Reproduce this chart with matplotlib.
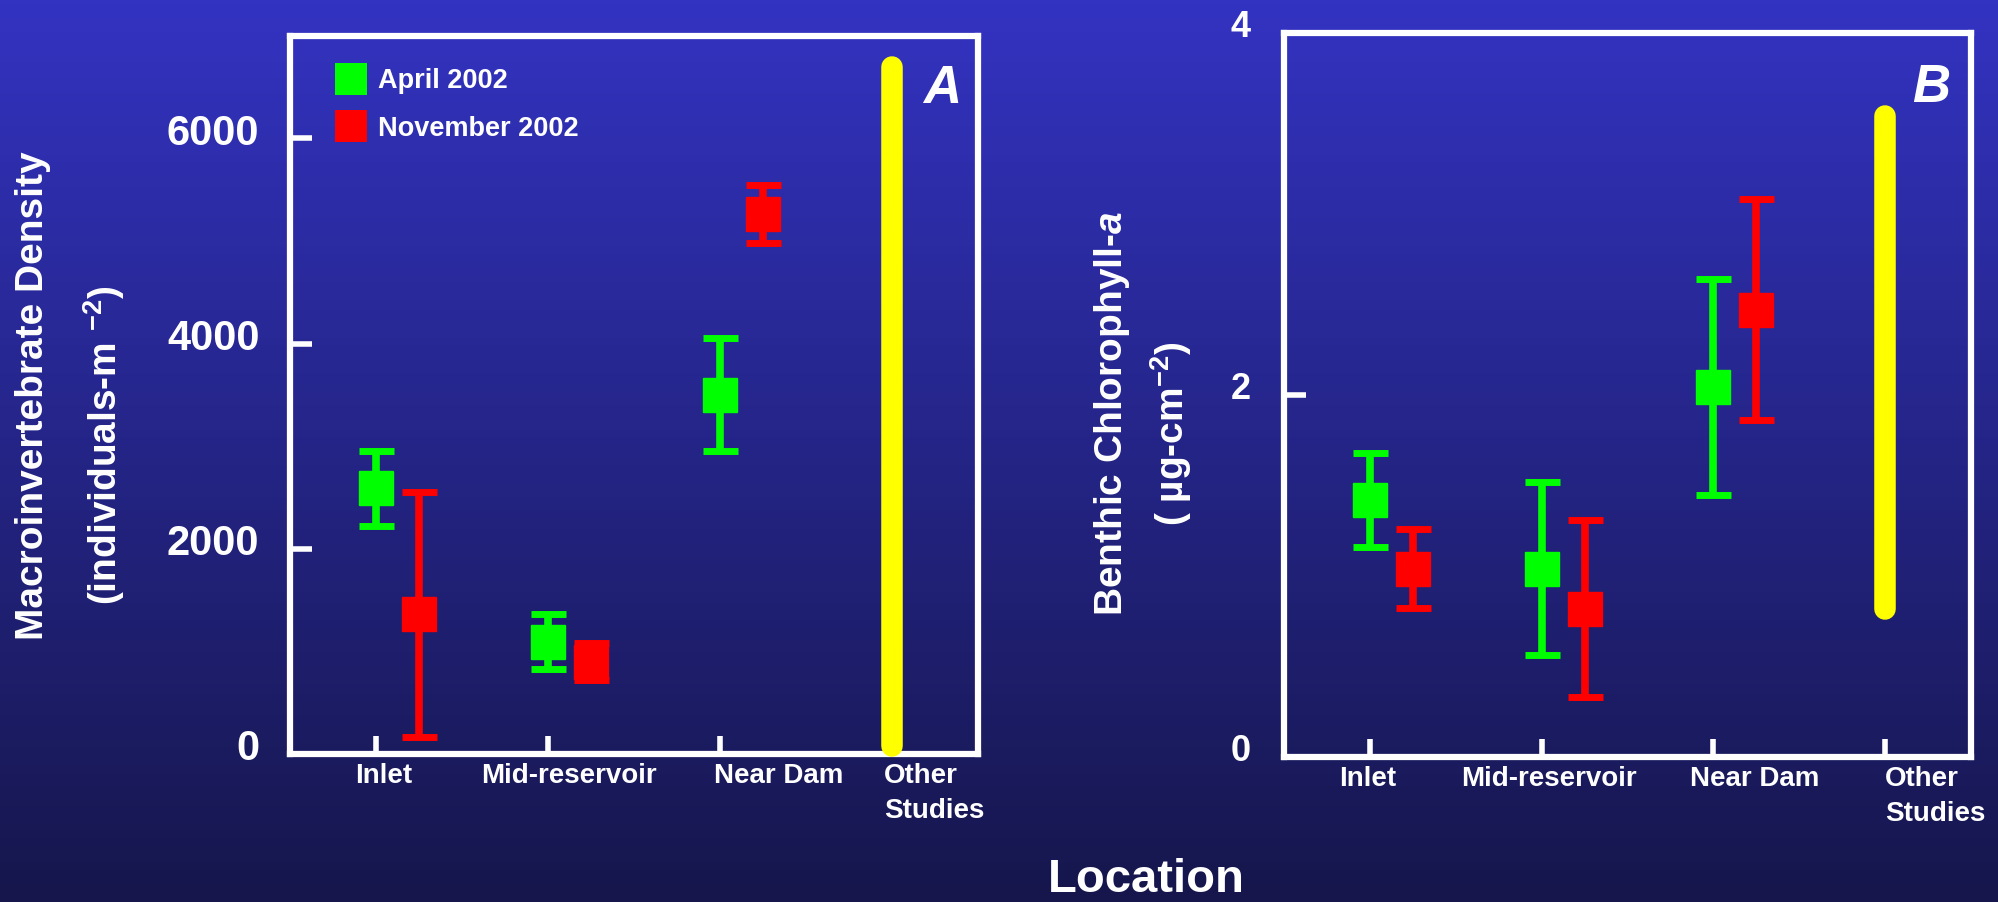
import numpy as np
import matplotlib
matplotlib.use('Agg')
import matplotlib.pyplot as plt
from matplotlib.lines import Line2D
from matplotlib.transforms import ScaledTranslation, blended_transform_factory

plt.rcParams['font.family'] = ['Liberation Sans', 'DejaVu Sans']
plt.rcParams['font.weight'] = 'bold'
plt.rcParams['mathtext.fontset'] = 'custom'
plt.rcParams['mathtext.rm'] = 'Liberation Sans:bold'
plt.rcParams['mathtext.bf'] = 'Liberation Sans:bold'
plt.rcParams['mathtext.it'] = 'Liberation Sans:bold:italic'

# data
locations = ['Inlet', 'Mid-reservoir', 'Near Dam', 'Other\nStudies']
x = np.arange(1, 5)

dens_apr = [2590, 1096, 3503]
dens_apr_err = [365, 272, 547]
dens_nov = [1360, 900, 5265]
dens_nov_err = [1195, 180, 284]
dens_other = [80, 6700]

chl_apr = [1.42, 1.04, 2.045]
chl_apr_err = [0.26, 0.477, 0.596]
chl_nov = [1.04, 0.82, 2.47]
chl_nov_err = [0.218, 0.49, 0.61]
chl_other = [0.82, 3.54]

GREEN = '#00ff00'
RED = '#ff0000'
YELLOW = '#ffff00'
W = 'white'

fig = plt.figure(figsize=(19.99, 9.02), dpi=100)

# gradient background
bg = fig.add_axes([0, 0, 1, 1], zorder=-10)
top = np.array([51, 51, 194]) / 255
bot = np.array([22, 22, 76]) / 255
t = np.linspace(0, 1, 256)[:, None]
grad = top[None, :] * (1 - t) + bot[None, :] * t
bg.imshow(grad[:, None, :], aspect='auto', extent=[0, 1, 0, 1])
bg.axis('off')

axA = fig.add_axes([0.1451, 0.1641, 0.3442, 0.7963])
axB = fig.add_axes([0.6423, 0.1608, 0.3437, 0.8027])


def panel(ax, apr, apr_err, nov, nov_err, other, ylim, yticks, ytsize, ypad,
          lab_x, letter, letter_pos):
    ax.set_facecolor('none')
    for xs, ys, es, c in [(x[:3], apr, apr_err, GREEN),
                          (x[:3] + 0.25, nov, nov_err, RED)]:
        _, caps, bars = ax.errorbar(xs, ys, yerr=es, fmt='s', color=c, ms=24,
                                    mec=c, elinewidth=5.5, capsize=12.6,
                                    capthick=5)
        for cap in caps:
            cap.set_solid_capstyle('round')
    ax.plot([x[3], x[3]], other, color=YELLOW, lw=15.5, solid_capstyle='round',
            zorder=3, clip_on=False)
    ax.set_xlim(0.5, 4.5)
    ax.set_ylim(*ylim)
    ax.set_yticks(yticks)
    ax.set_xticks(x)
    for s in ax.spines.values():
        s.set_color(W)
        s.set_linewidth(4.5)
    ax.tick_params(axis='y', direction='in', length=16, width=4, color=W,
                   labelcolor=W, labelsize=ytsize, pad=ypad)
    ax.tick_params(axis='x', direction='in', length=13, width=4, color=W,
                   labelbottom=False)
    off = ScaledTranslation(0, 0.09, fig.dpi_scale_trans)
    for lab in ax.get_yticklabels():
        lab.set_transform(lab.get_transform() + off)
    tr = blended_transform_factory(ax.transData, ax.transAxes)
    for i, name in enumerate(locations):
        ax.text(lab_x[i], -0.013, name, transform=tr, color=W, fontsize=20,
                ha='left' if i == 3 else 'center', va='top', linespacing=1.45)
    ax.text(letter_pos[0], letter_pos[1], letter, transform=ax.transAxes,
            color=W, fontsize=38, fontstyle='italic', ha='center', va='baseline')


panel(axA, dens_apr, dens_apr_err, dens_nov, dens_nov_err, dens_other,
      (0, 7000), [0, 2000, 4000, 6000], 30, 22, [1.046, 2.124, 3.343, 3.953],
      'A', (0.948, 0.906))
panel(axB, chl_apr, chl_apr_err, chl_nov, chl_nov_err, chl_other,
      (0, 4), [0, 2, 4], 26, 24, [0.99, 2.04, 3.242, 4.0], 'B', (0.942, 0.905))

handles = [Line2D([], [], marker='s', ls='none', color=GREEN, ms=23, mew=0),
           Line2D([], [], marker='s', ls='none', color=RED, ms=23, mew=0)]
leg = axA.legend(handles, ['April 2002', 'November 2002'], loc='upper left',
                 bbox_to_anchor=(0.0654, 0.955), frameon=False, fontsize=19.5,
                 handlelength=1.2, handletextpad=0.38, labelspacing=0.8,
                 borderpad=0, borderaxespad=0)
for txt in leg.get_texts():
    txt.set_color(W)

# axis titles
fig.text(43 / 1999, 1 - 395.5 / 902, 'Macroinvertebrate Density', rotation=90,
         rotation_mode='anchor', ha='center', va='baseline', color=W, fontsize=28)
fig.text(117 / 1999, 1 - 445 / 902, '(individuals-m $^{-2}$)', rotation=90,
         rotation_mode='anchor', ha='center', va='baseline', color=W, fontsize=28)
fig.text(1122 / 1999, 1 - 413.5 / 902, 'Benthic Chlorophyll-$\\mathit{a}$', rotation=90,
         rotation_mode='anchor', ha='center', va='baseline', color=W, fontsize=28)
fig.text(1184 / 1999, 1 - 433.5 / 902, '( \u00b5g-cm$^{-2}$)', rotation=90,
         rotation_mode='anchor', ha='center', va='baseline', color=W, fontsize=28)
fig.text(1146 / 1999, 1 - 892 / 902, 'Location', ha='center', va='baseline',
         color=W, fontsize=34)

fig.savefig('out.png', dpi=100)
